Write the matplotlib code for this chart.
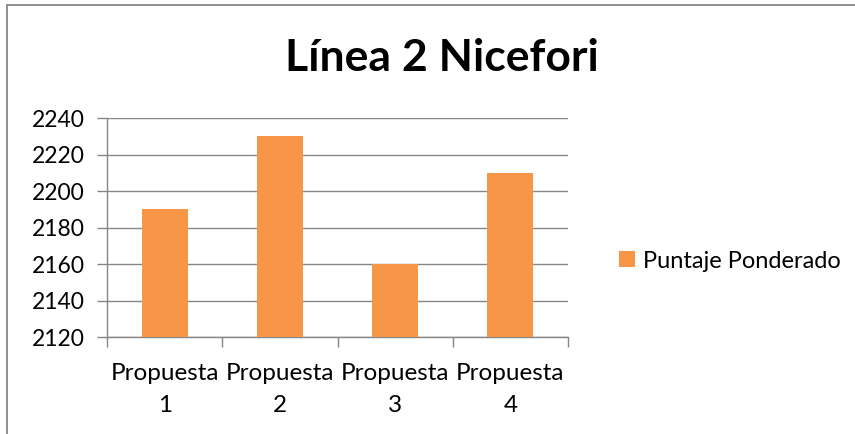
import matplotlib.pyplot as plt
from matplotlib.patches import Rectangle

plt.rcParams['font.family'] = ['Lato', 'DejaVu Sans']

categorias = ['Propuesta\n1', 'Propuesta\n2', 'Propuesta\n3', 'Propuesta\n4']
puntaje = [2190, 2230, 2160, 2210]
yticks = [2120, 2140, 2160, 2180, 2200, 2220, 2240]

naranja = '#F79646'
gris = '#868686'

fig = plt.figure(figsize=(8.55, 4.34), dpi=100)
W, H = 855, 434

# borde del área del gráfico (se sale por la derecha y por abajo)
fig.add_artist(Rectangle((7 / W, -0.1), 1.2, 1 - 5 / H + 0.1,
                         transform=fig.transFigure, fill=False,
                         edgecolor=gris, linewidth=1.3))

ax = fig.add_axes([107 / W, 1 - 337 / H, (568 - 107) / W, (337 - 118) / H])
x = range(len(categorias))
ax.bar(x, puntaje, width=0.4, color=naranja, label='Puntaje Ponderado', zorder=3)

ax.set_xlim(-0.5, len(categorias) - 0.5)
ax.set_ylim(yticks[0], yticks[-1])
ax.set_yticks(yticks)
ax.set_xticks(list(x))
ax.set_xticklabels(categorias, fontsize=17.5, linespacing=1.6)
ax.tick_params(axis='y', labelsize=16.5, length=7, color=gris, width=1, pad=9)
ax.tick_params(axis='x', which='major', length=0, pad=19)
ax.set_xticks([i - 0.5 for i in range(len(categorias) + 1)], minor=True)
ax.tick_params(axis='x', which='minor', length=7, color=gris, width=1)
ax.grid(axis='y', color=gris, linewidth=1, zorder=0)
for lado in ['top', 'right']:
    ax.spines[lado].set_visible(False)
for lado in ['left', 'bottom']:
    ax.spines[lado].set_color(gris)
    ax.spines[lado].set_linewidth(1)

fig.text(442 / W, 1 - 58 / H, 'Línea 2 Nicefori', fontsize=32, fontweight='bold',
         ha='center', va='center')

ax.legend(loc='center left', bbox_to_anchor=(598 / W, 1 - 261 / H),
          bbox_transform=fig.transFigure, frameon=False, fontsize=17,
          handlelength=0.65, handleheight=0.65, handletextpad=0.35)

fig.savefig('out.png', dpi=100)
